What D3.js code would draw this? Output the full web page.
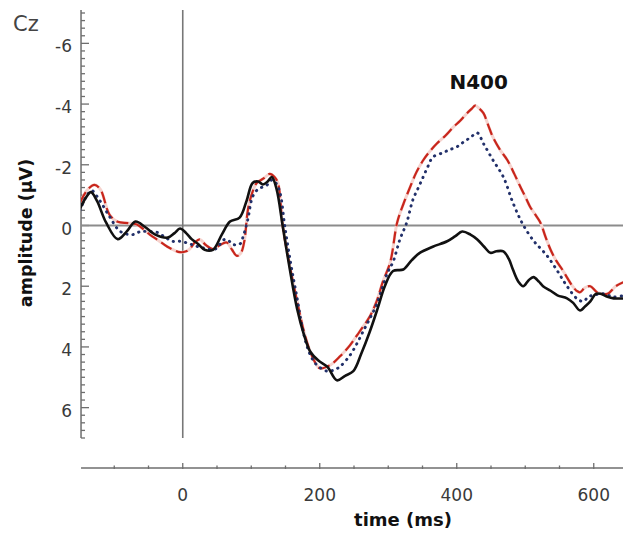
<!DOCTYPE html>
<html>
<head>
<meta charset="utf-8">
<script src="https://cdn.jsdelivr.net/npm/d3@7/dist/d3.min.js"></script>
<style>
  html, body { margin: 0; padding: 0; background: #fff; }
  svg { display: block; font-family: "DejaVu Sans", sans-serif; }
</style>
</head>
<body>
<svg id="erp"></svg>
<script>
// time (ms), amplitude (µV)
const blackSolid = [
  [-150, -0.55], [-142, -0.9], [-134, -1.1], [-125, -0.8], [-112, -0.1], [-95, 0.45], [-82, 0.2],
  [-69, -0.13], [-55, 0.05], [-40, 0.3], [-22, 0.4], [-12, 0.25], [-4, 0.1], [5, 0.25], [13, 0.45],
  [22, 0.6], [32, 0.8], [44, 0.8], [57, 0.3], [69, -0.13], [83, -0.26], [93, -0.8], [102, -1.4],
  [110, -1.45], [117, -1.35], [124, -1.45], [130, -1.6], [137, -1.2], [146, 0.03], [156, 1.4],
  [167, 2.75], [177, 3.6], [186, 4.15], [198, 4.45], [211, 4.65], [225, 5.1], [237, 4.95], [249, 4.8],
  [261, 4.2], [273, 3.5], [285, 2.7], [295, 2.0], [307, 1.5], [322, 1.45], [334, 1.15], [346, 0.9],
  [365, 0.7], [386, 0.52], [398, 0.35], [408, 0.2], [420, 0.3], [430, 0.46], [440, 0.7], [449, 0.9],
  [458, 0.85], [468, 0.85], [476, 1.1], [482, 1.45], [490, 1.85], [497, 2.0], [505, 1.8], [512, 1.7],
  [520, 1.85], [526, 2.0], [537, 2.15], [547, 2.3], [561, 2.4], [570, 2.55], [580, 2.8], [588, 2.65],
  [595, 2.5], [603, 2.25], [610, 2.25], [620, 2.35], [629, 2.4], [645, 2.4]
];

const blueDotted = [
  [-150, -0.5], [-141, -0.95], [-133, -1.15], [-122, -0.85], [-107, -0.3], [-91, 0.2], [-73, 0.3],
  [-62, 0.2], [-51, 0.2], [-37, 0.23], [-25, 0.4], [-15, 0.52], [-3, 0.52], [12, 0.62], [26, 0.72],
  [47, 0.78], [55, 0.6], [61, 0.46], [67, 0.5], [73, 0.62], [83, 0.62], [89, 0.3], [95, -0.2],
  [102, -0.95], [110, -1.2], [117, -1.27], [124, -1.35], [130, -1.5], [136, -1.4], [142, -1.08],
  [149, 0.03], [158, 1.3], [167, 2.4], [174, 3.3], [181, 3.95], [188, 4.35], [196, 4.6], [211, 4.8],
  [222, 4.75], [230, 4.64], [244, 4.28], [254, 3.9], [263, 3.5], [273, 3.07], [283, 2.6], [292, 2.0],
  [300, 1.5], [307, 1.2], [317, 0.46], [327, -0.1], [336, -0.85], [344, -1.25], [351, -1.6],
  [358, -1.95], [365, -2.25], [380, -2.4], [390, -2.5], [401, -2.6], [410, -2.75], [420, -2.9],
  [430, -3.05], [439, -2.7], [453, -2.15], [468, -1.6], [482, -0.75], [496, -0.06], [512, 0.5],
  [522, 0.75], [532, 1.0], [547, 1.5], [561, 2.0], [576, 2.42], [585, 2.5], [592, 2.35], [599, 2.3],
  [614, 2.25], [629, 2.35], [645, 2.3]
];

const redDashed = [
  [-150, -0.75], [-140, -1.15], [-129, -1.34], [-120, -1.18], [-107, -0.36], [-95, -0.12], [-80, -0.08],
  [-67, -0.03], [-48, 0.3], [-35, 0.5], [-23, 0.69], [-12, 0.82], [-4, 0.88], [5, 0.85], [10, 0.78],
  [18, 0.55], [25, 0.46], [34, 0.65], [44, 0.78], [54, 0.65], [64, 0.56], [72, 0.8], [79, 1.0],
  [85, 0.9], [90, 0.5], [95, -0.5], [101, -1.05], [108, -1.4], [118, -1.55], [127, -1.7], [134, -1.6],
  [139, -1.4], [146, 0.03], [156, 1.3], [167, 2.5], [177, 3.5], [186, 4.15], [193, 4.5], [200, 4.7],
  [215, 4.6], [230, 4.3], [244, 3.95], [258, 3.5], [273, 3.0], [283, 2.5], [292, 1.86], [303, 1.2],
  [313, -0.1], [322, -0.7], [332, -1.27], [341, -1.75], [351, -2.15], [361, -2.45], [371, -2.7],
  [383, -2.95], [395, -3.24], [405, -3.45], [415, -3.7], [422, -3.85], [427, -3.95], [433, -3.85],
  [439, -3.7], [446, -3.3], [453, -2.9], [463, -2.5], [474, -2.15], [484, -1.7], [493, -1.27],
  [500, -0.95], [507, -0.62], [515, -0.35], [522, -0.1], [530, 0.4], [537, 0.8], [545, 1.15],
  [554, 1.45], [562, 1.75], [569, 2.0], [575, 2.15], [580, 2.2], [587, 2.05], [595, 2.0], [605, 2.2],
  [620, 2.25], [632, 2.0], [645, 1.85]
];

const yTickLabels = [-6, -4, -2, 0, 2, 4, 6];
const xTickLabels = [0, 200, 400, 600];

const width = 623, height = 533;

const svg = d3.select('#erp')
  .attr('width', width)
  .attr('height', height)
  .attr('viewBox', `0 0 ${width} ${height}`);

// negative is plotted upwards
const x = d3.scaleLinear().domain([-150, 650]).range([80, 628]);
const y = d3.scaleLinear().domain([-7, 7]).range([13, 438]);

const axisColor = '#6e6e6e';
const x0 = x(-148.5);
const xAxisY = 468;

// y axis line + ticks (every 0.25 µV)
svg.append('line')
  .attr('x1', x0).attr('x2', x0)
  .attr('y1', y(-7.1)).attr('y2', y(7))
  .attr('stroke', axisColor).attr('stroke-width', 1.5);

const yMinor = d3.range(-7, 7.001, 0.25);
svg.append('g')
  .selectAll('line')
  .data(yMinor)
  .join('line')
  .attr('x1', x0)
  .attr('x2', d => x0 + (Math.abs(d % 2) < 1e-6 ? 8 : 4))
  .attr('y1', d => y(d)).attr('y2', d => y(d))
  .attr('stroke', axisColor).attr('stroke-width', 1.3);

svg.append('g')
  .selectAll('text')
  .data(yTickLabels)
  .join('text')
  .attr('x', 72)
  .attr('y', d => y(d) + 9)
  .attr('text-anchor', 'end')
  .attr('font-size', '17px')
  .attr('fill', '#3a3a3a')
  .text(d => d);

// x axis (separate, below the plot)
svg.append('line')
  .attr('x1', x0).attr('x2', width)
  .attr('y1', xAxisY).attr('y2', xAxisY)
  .attr('stroke', axisColor).attr('stroke-width', 1.5);

const xMinor = d3.range(-100, 651, 50);
svg.append('g')
  .selectAll('line')
  .data(xMinor)
  .join('line')
  .attr('x1', d => x(d)).attr('x2', d => x(d))
  .attr('y1', d => xAxisY - (d % 200 === 0 ? 5 : 2.5))
  .attr('y2', xAxisY + 1)
  .attr('stroke', axisColor).attr('stroke-width', 1.3);

svg.append('g')
  .selectAll('text')
  .data(xTickLabels)
  .join('text')
  .attr('x', d => x(d))
  .attr('y', 501)
  .attr('text-anchor', 'middle')
  .attr('font-size', '17px')
  .attr('fill', '#3a3a3a')
  .text(d => d);

// zero lines
svg.append('line')
  .attr('x1', x0).attr('x2', width)
  .attr('y1', y(0)).attr('y2', y(0))
  .attr('stroke', '#8c8c8c').attr('stroke-width', 2);

svg.append('line')
  .attr('x1', x(0)).attr('x2', x(0))
  .attr('y1', y(-7.1)).attr('y2', y(7))
  .attr('stroke', '#777').attr('stroke-width', 1.6);

// waveforms
const line = d3.line()
  .x(d => x(d[0]))
  .y(d => y(d[1]))
  .curve(d3.curveCatmullRom.alpha(0.5));

svg.append('defs').append('clipPath').attr('id', 'plot-clip')
  .append('rect').attr('x', x0).attr('y', 0).attr('width', width - x0).attr('height', 450);

const plot = svg.append('g').attr('clip-path', 'url(#plot-clip)');

plot.append('path')
  .datum(redDashed)
  .attr('d', line)
  .attr('fill', 'none')
  .attr('stroke', '#f6d3ce')
  .attr('stroke-width', 3);

plot.append('path')
  .datum(redDashed)
  .attr('d', line)
  .attr('fill', 'none')
  .attr('stroke', '#c8261c')
  .attr('stroke-width', 2.2)
  .attr('stroke-dasharray', '12 5');

plot.append('path')
  .datum(blueDotted)
  .attr('d', line)
  .attr('fill', 'none')
  .attr('stroke', '#22306a')
  .attr('stroke-width', 2.9)
  .attr('stroke-linecap', 'round')
  .attr('stroke-dasharray', '0.4 5.8');

plot.append('path')
  .datum(blackSolid)
  .attr('d', line)
  .attr('fill', 'none')
  .attr('stroke', '#111')
  .attr('stroke-width', 2.6)
  .attr('stroke-linejoin', 'round');

// labels
svg.append('text')
  .attr('x', 13)
  .attr('y', 31)
  .attr('font-size', '21px')
  .attr('fill', '#444')
  .text('Cz');

svg.append('text')
  .attr('x', x(432))
  .attr('y', 89)
  .attr('text-anchor', 'middle')
  .attr('font-size', '20px')
  .attr('font-weight', 'bold')
  .attr('fill', '#111')
  .text('N400');

svg.append('text')
  .attr('transform', `translate(32, 233) rotate(-90)`)
  .attr('text-anchor', 'middle')
  .attr('font-size', '17.5px')
  .attr('font-weight', 'bold')
  .attr('fill', '#111')
  .text('amplitude (µV)');

svg.append('text')
  .attr('x', 403)
  .attr('y', 526)
  .attr('text-anchor', 'middle')
  .attr('font-size', '18px')
  .attr('font-weight', 'bold')
  .attr('fill', '#111')
  .text('time (ms)');
</script>
</body>
</html>
